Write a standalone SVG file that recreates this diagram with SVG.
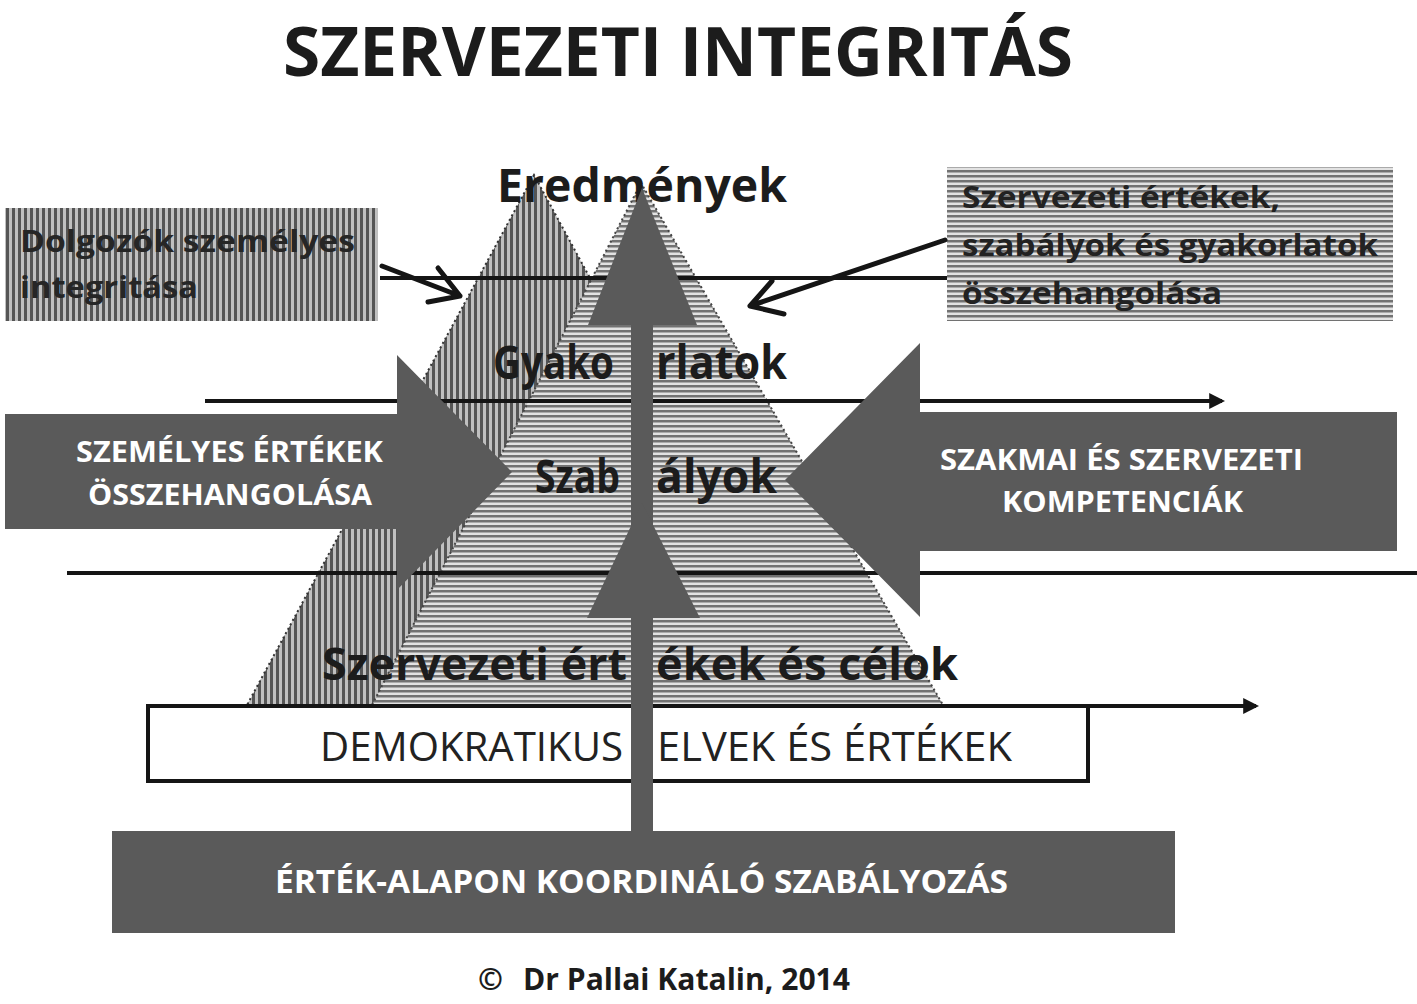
<svg xmlns="http://www.w3.org/2000/svg" width="1417" height="1004" viewBox="0 0 1417 1004">
<style>
.f{font-family:"Open Sans","Noto Sans","Liberation Sans",sans-serif}
.b{font-weight:bold}
.dk{fill:#1c1c1c}
.wt{fill:#ffffff}
.blk{fill:#5a5a5a}
.ln{stroke:#151515;stroke-width:4;fill:none}
.ch{stroke:#151515;stroke-width:5;fill:none;stroke-linecap:round;stroke-linejoin:round}
</style>
<defs>
<pattern id="vs" width="6" height="10" patternUnits="userSpaceOnUse">
<rect width="6" height="10" fill="#c0c0c0"/><rect width="3" height="10" fill="#555555"/>
</pattern>
<pattern id="hs" width="10" height="5" patternUnits="userSpaceOnUse">
<rect width="10" height="5" fill="#e2e2e2"/><rect width="10" height="2.5" fill="#727272"/>
</pattern>
<marker id="ah" viewBox="0 0 10 10" refX="8" refY="5" markerWidth="4" markerHeight="4" orient="auto">
<path d="M0,0 L10,5 L0,10 Z" fill="#151515"/>
</marker>
</defs>
<rect width="1417" height="1004" fill="#ffffff"/>

<g id="title">
<text class="f b dk" x="283" y="76" font-size="68" textLength="790" lengthAdjust="spacingAndGlyphs">SZERVEZETI INTEGRITÁS</text>
</g>

<g id="node-dolgozok">
<rect x="5" y="208" width="373" height="113" fill="url(#vs)"/>
<text class="f b" x="20" y="252" font-size="30" fill="#262626" textLength="335" lengthAdjust="spacingAndGlyphs">Dolgozók személyes</text>
<text class="f b" x="20" y="298" font-size="30" fill="#262626" textLength="178" lengthAdjust="spacingAndGlyphs">integritása</text>
</g>

<g id="node-szervezeti-osszehangolas">
<rect x="947" y="167" width="446" height="154" fill="url(#hs)"/>
<text class="f b" x="962" y="208" font-size="30" fill="#222" textLength="318" lengthAdjust="spacingAndGlyphs">Szervezeti értékek,</text>
<text class="f b" x="962" y="256" font-size="30" fill="#222" textLength="416" lengthAdjust="spacingAndGlyphs">szabályok és gyakorlatok</text>
<text class="f b" x="962" y="304" font-size="30" fill="#222" textLength="260" lengthAdjust="spacingAndGlyphs">összehangolása</text>
</g>

<g id="pyramid-back">
<polygon points="534,175 247,705 822,705" fill="url(#vs)" stroke="#333" stroke-width="2" stroke-dasharray="2 3"/>
</g>
<g id="pyramid-front">
<polygon points="641,183 372,705 943,705" fill="url(#hs)" stroke="#444" stroke-width="2" stroke-dasharray="2 3"/>
</g>

<g id="connectors">
<line class="ln" x1="380" y1="278" x2="947" y2="278"/>
<line class="ln" x1="205" y1="401" x2="1222" y2="401" marker-end="url(#ah)"/>
<line class="ln" x1="67" y1="573" x2="1417" y2="573"/>
<line class="ln" x1="148" y1="706" x2="1256" y2="706" marker-end="url(#ah)"/>
<path class="ch" d="M382,266 L460,296 M438,268 L460,296 L428,302"/>
<path class="ch" d="M945,240 L750,306 M772,281 L750,306 L784,314"/>
</g>

<g id="pyramid-labels">
<text class="f b dk" x="497" y="202" font-size="46" textLength="290" lengthAdjust="spacingAndGlyphs">Eredmények</text>
<text class="f b dk" y="379" font-size="46"><tspan x="493" textLength="121" lengthAdjust="spacingAndGlyphs">Gyako</tspan><tspan x="656" textLength="131" lengthAdjust="spacingAndGlyphs">rlatok</tspan></text>
<text class="f b dk" y="493" font-size="46"><tspan x="535" textLength="85" lengthAdjust="spacingAndGlyphs">Szab</tspan><tspan x="656" textLength="121" lengthAdjust="spacingAndGlyphs">ályok</tspan></text>
<text class="f b dk" y="680" font-size="44"><tspan x="322" textLength="305" lengthAdjust="spacingAndGlyphs">Szervezeti ért</tspan><tspan x="656" textLength="302" lengthAdjust="spacingAndGlyphs">ékek és célok</tspan></text>
</g>

<g id="node-szemelyes-ertekek">
<polygon class="blk" points="5,414 397,414 397,355 512,472 397,590 397,529 5,529"/>
<text class="f b wt" x="76" y="462" font-size="28" textLength="307" lengthAdjust="spacingAndGlyphs">SZEMÉLYES ÉRTÉKEK</text>
<text class="f b wt" x="88" y="505" font-size="28" textLength="284" lengthAdjust="spacingAndGlyphs">ÖSSZEHANGOLÁSA</text>
</g>

<g id="node-szakmai-kompetenciak">
<polygon class="blk" points="1397,412 920,412 920,343 785,480 920,617 920,551 1397,551"/>
<text class="f b wt" x="940" y="470" font-size="28" textLength="363" lengthAdjust="spacingAndGlyphs">SZAKMAI ÉS SZERVEZETI</text>
<text class="f b wt" x="1002" y="512" font-size="28" textLength="241" lengthAdjust="spacingAndGlyphs">KOMPETENCIÁK</text>
</g>

<g id="node-demokratikus">
<rect x="148" y="706" width="940" height="75" fill="#ffffff" stroke="#151515" stroke-width="4"/>
<text class="f" y="761" font-size="40" fill="#222"><tspan x="320" textLength="303" lengthAdjust="spacingAndGlyphs">DEMOKRATIKUS</tspan> <tspan x="657" textLength="355" lengthAdjust="spacingAndGlyphs">ELVEK ÉS ÉRTÉKEK</tspan></text>
</g>

<g id="node-ertek-alapon">
<rect class="blk" x="112" y="831" width="1063" height="102"/>
<text class="f b wt" x="275" y="893" font-size="32" textLength="733" lengthAdjust="spacingAndGlyphs">ÉRTÉK-ALAPON KOORDINÁLÓ SZABÁLYOZÁS</text>
</g>

<g id="arrow-up">
<rect class="blk" x="631" y="300" width="22" height="533"/>
<polygon class="blk" points="588,325 642,188 697,325"/>
<polygon class="blk" points="587,618 642,503 700,618"/>
</g>

<g id="copyright">
<text class="f b dk" y="990" font-size="30"><tspan x="478">©</tspan> <tspan x="523" textLength="327" lengthAdjust="spacingAndGlyphs">Dr Pallai Katalin, 2014</tspan></text>
</g>
</svg>
